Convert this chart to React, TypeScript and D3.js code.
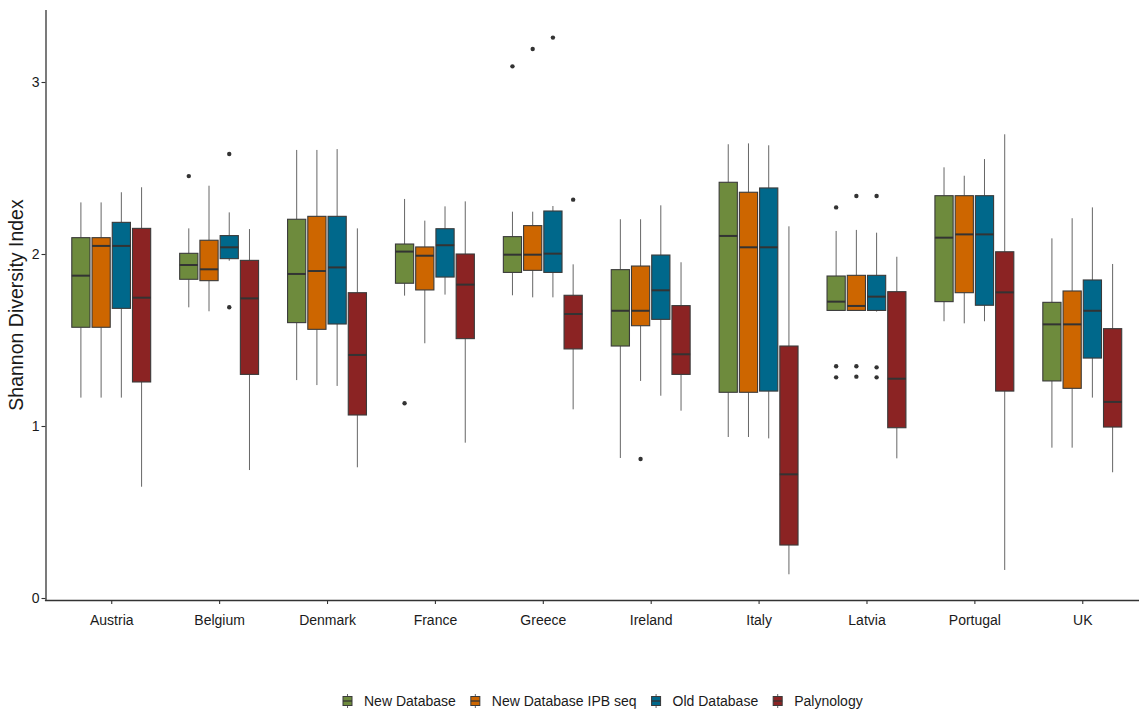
import { useEffect, useRef } from 'react';
import * as d3 from 'd3';

const countries = ['Austria', 'Belgium', 'Denmark', 'France', 'Greece', 'Ireland', 'Italy', 'Latvia', 'Portugal', 'UK'];
const seriesNames = ['New Database', 'New Database IPB seq', 'Old Database', 'Palynology'];
const seriesColors = ['#6E8B3D', '#CD6600', '#00688B', '#8B2323'];
const yTicks = [0, 1, 2, 3];

// [lower whisker, Q1, median, Q3, upper whisker], one row per country
const newDb = [
  [1.165, 1.574, 1.874, 2.095, 2.3],
  [1.69, 1.853, 1.936, 2.004, 2.149],
  [1.267, 1.601, 1.884, 2.202, 2.605],
  [1.758, 1.83, 2.014, 2.058, 2.32],
  [1.76, 1.893, 1.996, 2.101, 2.246],
  [0.814, 1.465, 1.67, 1.909, 2.202],
  [0.936, 1.196, 2.105, 2.417, 2.638],
  [1.672, 1.672, 1.723, 1.872, 2.134],
  [1.609, 1.723, 2.095, 2.339, 2.504],
  [0.874, 1.262, 1.591, 1.719, 2.091],
];
const newDbIpb = [
  [1.165, 1.574, 2.047, 2.095, 2.3],
  [1.667, 1.845, 1.911, 2.08, 2.397],
  [1.238, 1.562, 1.901, 2.219, 2.605],
  [1.481, 1.791, 1.99, 2.041, 2.194],
  [1.748, 1.905, 1.996, 2.165, 2.246],
  [1.262, 1.583, 1.67, 1.93, 2.202],
  [0.936, 1.196, 2.039, 2.359, 2.643],
  [1.672, 1.672, 1.698, 1.876, 2.14],
  [1.597, 1.775, 2.114, 2.339, 2.455],
  [0.874, 1.219, 1.591, 1.785, 2.208],
];
const oldDb = [
  [1.165, 1.684, 2.047, 2.184, 2.359],
  [1.961, 1.973, 2.039, 2.107, 2.242],
  [1.233, 1.593, 1.922, 2.219, 2.61],
  [1.764, 1.866, 2.051, 2.147, 2.277],
  [1.748, 1.893, 2.002, 2.25, 2.279],
  [1.176, 1.62, 1.789, 1.994, 2.283],
  [0.928, 1.203, 2.039, 2.384, 2.632],
  [1.665, 1.672, 1.752, 1.876, 2.124],
  [1.609, 1.702, 2.114, 2.339, 2.552],
  [1.165, 1.395, 1.67, 1.849, 2.271],
];
const palynology = [
  [0.647, 1.256, 1.746, 2.149, 2.388],
  [0.744, 1.3, 1.742, 1.963, 2.145],
  [0.76, 1.064, 1.413, 1.775, 2.149],
  [0.903, 1.508, 1.822, 2.0, 2.306],
  [1.097, 1.448, 1.651, 1.76, 1.94],
  [1.089, 1.3, 1.417, 1.7, 1.952],
  [0.138, 0.308, 0.719, 1.465, 2.161],
  [0.812, 0.99, 1.275, 1.781, 1.984],
  [0.163, 1.203, 1.777, 2.013, 2.696],
  [0.731, 0.994, 1.14, 1.566, 1.942],
];

// outliers: [country, value]
const newDbOutliers: [string, number][] = [
  ['Belgium', 2.453], ['France', 1.132], ['Greece', 3.091],
  ['Latvia', 2.271], ['Latvia', 1.347], ['Latvia', 1.283],
];
const newDbIpbOutliers: [string, number][] = [
  ['Greece', 3.192], ['Ireland', 0.808],
  ['Latvia', 2.337], ['Latvia', 1.347], ['Latvia', 1.287],
];
const oldDbOutliers: [string, number][] = [
  ['Belgium', 2.581], ['Belgium', 1.69], ['Greece', 3.258],
  ['Latvia', 2.337], ['Latvia', 1.341], ['Latvia', 1.283],
];
const palynologyOutliers: [string, number][] = [['Greece', 2.316]];

const allStats = [newDb, newDbIpb, oldDb, palynology];
const allOutliers = [newDbOutliers, newDbIpbOutliers, oldDbOutliers, palynologyOutliers];

const FONT = '"Liberation Sans", Arial, sans-serif';

const App = () => {
  const ref = useRef<SVGSVGElement>(null);

  useEffect(() => {
    const width = 1139;
    const height = 710;
    const svg = d3.select(ref.current);
    svg.selectAll('*').remove();

    // panel edges
    const left = 46.5;
    const right = 1147;
    const top = 10;
    const bottom = 600;

    const x = d3.scalePoint<string>().domain(countries).range([left, right]).padding(0.6);
    const y = d3.scaleLinear().domain([-0.0116, 3.4186]).range([bottom, top]);

    const groupW = x.step() * 0.75;
    const sub = d3
      .scaleBand<number>()
      .domain(d3.range(seriesNames.length))
      .range([-groupW / 2, groupW / 2]);
    const boxW = sub.bandwidth() * 0.9;

    const g = svg.append('g');

    allStats.forEach((stats, si) => {
      const sg = g.append('g');
      stats.forEach((s, ci) => {
        const cx = x(countries[ci])! + sub(si)! + sub.bandwidth() / 2;
        const [lo, q1, med, q3, hi] = s;
        // whiskers
        sg.append('line')
          .attr('x1', cx).attr('x2', cx)
          .attr('y1', y(hi)).attr('y2', y(q3))
          .attr('stroke', '#666').attr('stroke-width', 1);
        sg.append('line')
          .attr('x1', cx).attr('x2', cx)
          .attr('y1', y(q1)).attr('y2', y(lo))
          .attr('stroke', '#666').attr('stroke-width', 1);
        // box
        sg.append('rect')
          .attr('x', cx - boxW / 2)
          .attr('y', y(q3))
          .attr('width', boxW)
          .attr('height', Math.max(0.5, y(q1) - y(q3)))
          .attr('fill', seriesColors[si])
          .attr('stroke', '#3a3a3a')
          .attr('stroke-width', 1.1);
        // median
        sg.append('line')
          .attr('x1', cx - boxW / 2).attr('x2', cx + boxW / 2)
          .attr('y1', y(med)).attr('y2', y(med))
          .attr('stroke', '#333').attr('stroke-width', 2);
      });

      sg.selectAll('circle.out')
        .data(allOutliers[si])
        .join('circle')
        .attr('class', 'out')
        .attr('cx', (d) => x(d[0])! + sub(si)! + sub.bandwidth() / 2)
        .attr('cy', (d) => y(d[1]))
        .attr('r', 2.2)
        .attr('fill', '#333');
    });

    // axes
    const yAxis = svg
      .append('g')
      .attr('transform', `translate(${left - 1},0)`)
      .call(d3.axisLeft(y).tickValues(yTicks).tickFormat(d3.format('d')).tickSize(4).tickSizeOuter(0));
    const xAxis = svg
      .append('g')
      .attr('transform', `translate(0,${bottom})`)
      .call(d3.axisBottom(x).tickSize(4).tickSizeOuter(0).tickPadding(11));

    [yAxis, xAxis].forEach((ax) => {
      ax.select('.domain').attr('stroke', '#333').attr('stroke-width', 1.3);
      ax.selectAll('.tick line').attr('stroke', '#333').attr('stroke-width', 1.1);
      ax.selectAll('.tick text')
        .attr('fill', '#1a1a1a')
        .style('font-family', FONT)
        .style('font-size', '14px');
    });
    xAxis.select('.domain').attr('d', `M${left - 1.6},0.5H${right}`);
    yAxis.select('.domain').attr('d', `M0.5,${bottom + 0.5}V${top}`);
    yAxis.selectAll('.tick text').attr('x', -6);

    svg.append('text')
      .attr('transform', `translate(23,${(top + bottom) / 2}) rotate(-90)`)
      .attr('text-anchor', 'middle')
      .attr('fill', '#1a1a1a')
      .style('font-family', FONT)
      .style('font-size', '19.5px')
      .text('Shannon Diversity Index');

    // legend
    const legend = svg.append('g');
    const ly = 701;
    let lx = 343;
    seriesNames.forEach((name, i) => {
      const item = legend.append('g').attr('transform', `translate(${lx},0)`);
      const kw = 9;
      item.append('line')
        .attr('x1', kw / 2).attr('x2', kw / 2)
        .attr('y1', ly - 7).attr('y2', ly + 7)
        .attr('stroke', '#666').attr('stroke-width', 1);
      item.append('rect')
        .attr('x', 0).attr('y', ly - 4.5)
        .attr('width', kw).attr('height', 9)
        .attr('fill', seriesColors[i])
        .attr('stroke', '#3a3a3a').attr('stroke-width', 1);
      item.append('line')
        .attr('x1', 0).attr('x2', kw)
        .attr('y1', ly).attr('y2', ly)
        .attr('stroke', '#333').attr('stroke-width', 1.3);
      const t = item.append('text')
        .attr('x', kw + 12)
        .attr('y', ly)
        .attr('dy', '0.35em')
        .attr('fill', '#1a1a1a')
        .style('font-family', FONT)
        .style('font-size', '14px')
        .text(name);
      const tw = (t.node() as SVGTextElement).getComputedTextLength();
      lx += kw + 12 + tw + 15;
    });

    svg.attr('width', width).attr('height', height);
  }, []);

  return (
    <svg
      ref={ref}
      width={1139}
      height={710}
      style={{ position: 'absolute', left: 0, top: 0, background: '#fff' }}
    />
  );
};

export default App;
